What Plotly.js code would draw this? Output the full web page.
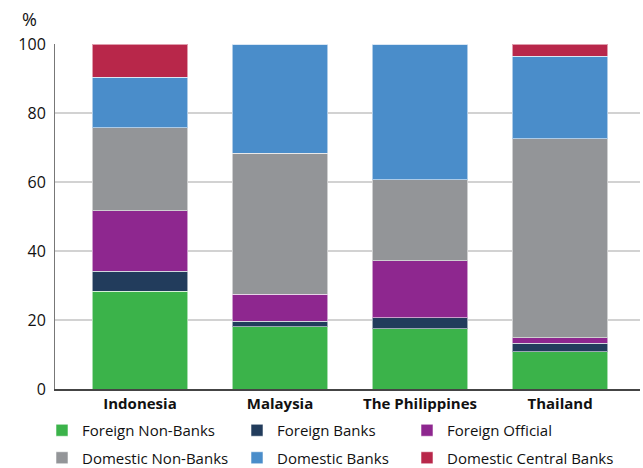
<!DOCTYPE html>
<html>
<head>
<meta charset="utf-8">
<script src="https://cdn.plot.ly/plotly-3.0.1.min.js"></script>
<style>html,body{margin:0;padding:0;background:#fff;}#chart{width:643px;height:468px;}</style>
</head>
<body>
<div id="chart"></div>
<script>
const countries = ["Indonesia", "Malaysia", "The Philippines", "Thailand"];
const seriesNames = ["Foreign Non-Banks", "Foreign Banks", "Foreign Official", "Domestic Non-Banks", "Domestic Banks", "Domestic Central Banks"];
const foreignNonBanks = [28.4, 18.0, 17.5, 10.8];
const foreignBanks = [5.7, 1.6, 3.1, 2.4];
const foreignOfficial = [17.6, 7.8, 16.6, 1.7];
const domesticNonBanks = [24.0, 41.0, 23.4, 57.7];
const domesticBanks = [14.6, 31.6, 39.4, 23.8];
const domesticCentralBanks = [9.7, 0, 0, 3.6];
const yTicks = [0, 20, 40, 60, 80, 100];

const seriesValues = [foreignNonBanks, foreignBanks, foreignOfficial, domesticNonBanks, domesticBanks, domesticCentralBanks];
const colors = ["#3bb34a", "#223c5c", "#8e278f", "#939598", "#4a8dca", "#b8274a"];
const legendIds = ["legend", "legend2", "legend3", "legend", "legend2", "legend3"];

const traces = seriesNames.map((name, i) => ({
  type: "bar",
  name: name,
  x: countries,
  y: seriesValues[i],
  width: 0.68,
  marker: { color: colors[i], line: { color: "rgba(255,255,255,0.55)", width: 1 } },
  legend: legendIds[i],
  legendgroup: "g" + i,
  hoverinfo: "x+y+name"
}));

const legendFont = { family: "Open Sans, Noto Sans, sans-serif", size: 15, color: "#111" };
function mkLegend(xpx) {
  return {
    xref: "container", yref: "container",
    x: xpx / 643, y: 1 - 414 / 468,
    xanchor: "left", yanchor: "top",
    orientation: "v",
    traceorder: "grouped",
    tracegroupgap: 5,
    itemwidth: 30,
    font: legendFont,
    bgcolor: "rgba(0,0,0,0)",
    itemclick: false, itemdoubleclick: false
  };
}

const layout = {
  width: 643, height: 468,
  margin: { l: 55, r: 3, t: 44, b: 79, autoexpand: false },
  paper_bgcolor: "#fff", plot_bgcolor: "#fff",
  barmode: "stack",
  bargap: 0.32,
  showlegend: true,
  font: { family: "Open Sans, Noto Sans, sans-serif", size: 15, color: "#111" },
  xaxis: {
    type: "category",
    range: [-0.607, 3.571],
    showgrid: false,
    showline: true, linecolor: "#444", linewidth: 1.5,
    ticks: "",
    tickfont: { family: "Open Sans, Noto Sans, sans-serif", size: 15, color: "#111", weight: "bold" },
    fixedrange: true
  },
  yaxis: {
    range: [0, 100],
    tickvals: yTicks,
    ticktext: yTicks.map(String),
    showgrid: true, gridcolor: "#d2d2d2", gridwidth: 1.5,
    showline: true, linecolor: "#777", linewidth: 1,
    zeroline: false,
    ticks: "",
    ticklabelstandoff: 5,
    tickfont: { family: "Open Sans, Noto Sans, sans-serif", size: 16, color: "#111" },
    fixedrange: true
  },
  legend: mkLegend(42),
  legend2: mkLegend(237),
  legend3: mkLegend(407),
  annotations: [{
    text: "%", xref: "paper", yref: "paper",
    x: -0.043, y: 1.073, xanchor: "center", yanchor: "middle",
    showarrow: false, font: { family: "Open Sans, Noto Sans, sans-serif", size: 18, color: "#111" }
  }]
};

Plotly.newPlot("chart", traces, layout, { displayModeBar: false, staticPlot: true });
</script>
</body>
</html>
